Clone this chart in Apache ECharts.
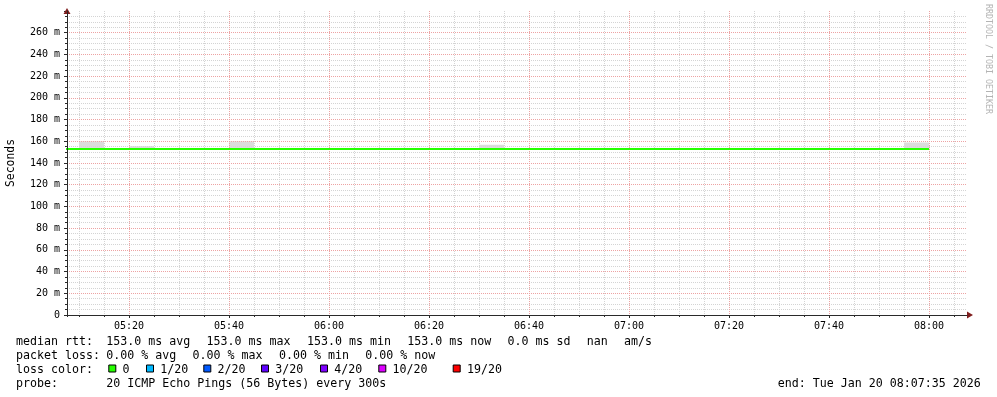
<!DOCTYPE html>
<html>
<head>
<meta charset="utf-8">
<script src="https://cdn.jsdelivr.net/npm/echarts@6/dist/echarts.min.js"></script>
<style>
html,body{margin:0;padding:0;background:#ffffff;}
#chart{width:997px;height:397px;}
</style>
</head>
<body>
<div id="chart"></div>
<script>
// ---------------- DATA ----------------
// 5-minute RRD steps, labelled by the END of each step (HH:MM, 2026-01-20)
const stepEnds = ['05:05','05:10','05:15','05:20','05:25','05:30','05:35','05:40','05:45','05:50','05:55',
                  '06:00','06:05','06:10','06:15','06:20','06:25','06:30','06:35','06:40','06:45','06:50','06:55',
                  '07:00','07:05','07:10','07:15','07:20','07:25','07:30','07:35','07:40','07:45','07:50','07:55','08:00'];
// median rtt per step (ms)
const medianRtt = [153,153,153,153,153,153,153,153,153,153,153,
                   153,153,153,153,153,153,153,153,153,153,153,153,
                   153,153,153,153,153,153,153,153,153,153,153,153,153];
// smoke: lowest and highest ping per step (ms)
const smokeMin  = [153,153,153,153,153,153,153,153,153,153,153,
                   153,153,153,153,153,153,153,153,153,153,153,153,
                   153,153,153,153,153,153,153,153,153,153,153,153,153];
const smokeMax  = [153,153,160,153,155.5,153,153,153,160,153,153,
                   153,153,153,153,153,153,153,156.7,153,153,153,153,
                   153,153,153,153,153,153,153,153,153,153,153,153,158.9];
const viewStart = '05:07:35';
const viewEnd   = '08:07:35';
const yMax = 280;        // ms (top label hidden)
const yMajor = 20;       // ms
const yMinorSplit = 4;   // 5 ms minor grid
const xMajorMin = 20;    // minutes
const xMinorMin = 5;     // minutes

const lossLabels = ['0','1/20','2/20','3/20','4/20','10/20','19/20'];
const lossColors = ['#26ff00','#00b8ff','#0059ff','#5e00ff','#7e00ff','#dd00ff','#ff0000'];
const rttLabel = 'median rtt:';
const rttStats = ['153.0 ms avg','153.0 ms max','153.0 ms min','153.0 ms now','0.0 ms sd','nan','am/s'];
const lossLabel = 'packet loss:';
const lossStats = ['0.00 % avg','0.00 % max','0.00 % min','0.00 % now'];
const lossColorLabel = 'loss color:';
const probeLabel = 'probe:';
const probeText = '20 ICMP Echo Pings (56 Bytes) every 300s';
const endText = 'end: Tue Jan 20 08:07:35 2026';
const yTitle = 'Seconds';
const watermark = 'RRDTOOL / TOBI OETIKER';

// ---------------- HELPERS ----------------
function toMs(hhmm) {
  const p = hhmm.split(':').map(Number);
  return Date.UTC(2026, 0, 20, p[0], p[1], p[2] || 0);
}
function pad(n) { return (n < 10 ? '0' : '') + n; }
const xMin = toMs(viewStart), xMax = toMs(viewEnd);
const MIN = 60000;

const baseData = stepEnds.map((t, i) => [toMs(t), smokeMin[i]]);
const bandData = stepEnds.map((t, i) => [toMs(t), smokeMax[i] - smokeMin[i]]);
const medData  = stepEnds.map((t, i) => [toMs(t), medianRtt[i]]);

// ---------------- STYLE / LAYOUT ----------------
const MONO = 'DejaVu Sans Mono';
const AXIS = '#2a2a2a', ARROW = '#801e1e';
const GRID = '#d4d4d4', MGRID = '#eda3a3';
const legFont = 11.63, charW = 7.0, elemGap = 16.3;
const lineY = [341.7, 355.7, 369.7, 383.7];
const valueX0 = 106.3, labelX = 16;
const lossSquareX = [108.3, 146, 203.3, 261, 320, 378.3, 452.7];

function txt(text, x, y, align) {
  return {
    type: 'text', x: x, y: y, silent: true,
    style: { text: text, fill: '#000', fontFamily: MONO, fontSize: legFont, align: align || 'left', verticalAlign: 'middle' }
  };
}
const graphics = [];
function statRow(label, items, y) {
  graphics.push(txt(label, labelX, y));
  let x = valueX0;
  items.forEach(s => { graphics.push(txt(s, x, y)); x += s.length * charW + elemGap; });
}
statRow(rttLabel, rttStats, lineY[0]);
statRow(lossLabel, lossStats, lineY[1]);
graphics.push(txt(lossColorLabel, labelX, lineY[2]));
lossLabels.forEach((l, i) => {
  const sx = lossSquareX[i];
  graphics.push({ type: 'rect', silent: true, shape: { x: sx + 0.5, y: lineY[2] - 4.7, width: 7, height: 7 },
                  style: { fill: lossColors[i], stroke: '#000', lineWidth: 1 } });
  graphics.push(txt(l, sx + 14.3, lineY[2]));
});
graphics.push(txt(probeLabel, labelX, lineY[3]));
graphics.push(txt(probeText, valueX0, lineY[3]));
graphics.push(txt(endText, 980.8, lineY[3], 'right'));
graphics.push({ type: 'text', x: 988, y: 4, rotation: -Math.PI / 2, silent: true,
  style: { text: watermark, fill: '#b4b4b4', fontFamily: MONO, fontSize: 8.3, align: 'left', verticalAlign: 'middle' } });

const xLabelFmt = v => {
  const d = new Date(v);
  if (d.getUTCSeconds() !== 0 || d.getUTCMinutes() % xMajorMin !== 0) return '';
  return pad(d.getUTCHours()) + ':' + pad(d.getUTCMinutes());
};

const chart = echarts.init(document.getElementById('chart'), null, { renderer: 'canvas' });
chart.setOption({
  useUTC: true,
  animation: false,
  backgroundColor: '#ffffff',
  grid: { left: 67, right: 30, top: 11, bottom: 82, containLabel: false, outerBoundsMode: 'none' },
  xAxis: [
    { // major grid + labels + arrow
      type: 'time', position: 'bottom', min: xMin, max: xMax, z: 3,
      minInterval: (xMajorMin + 1) * MIN, maxInterval: (xMajorMin + 1) * MIN,
      axisLine: { show: true, symbol: ['none', 'triangle'], symbolSize: [7, 6], symbolOffset: [0, 3],
                  lineStyle: { color: ARROW, width: 1 } },
      axisTick: { show: true, length: 3, lineStyle: { color: AXIS } },
      axisLabel: { show: true, formatter: xLabelFmt, color: '#000', fontFamily: MONO, fontSize: 10, margin: 6 },
      splitLine: { show: true, showMinLine: false, showMaxLine: false, lineStyle: { color: MGRID, type: [1, 1], width: 1 } }
    },
    { // minor grid
      type: 'time', position: 'bottom', min: xMin, max: xMax, z: 1,
      minInterval: (xMinorMin + 0.5) * MIN, maxInterval: (xMinorMin + 0.5) * MIN,
      axisLine: { show: false },
      axisTick: { show: true, length: 2, lineStyle: { color: AXIS } },
      axisLabel: { show: false },
      splitLine: { show: true, showMinLine: false, showMaxLine: false, lineStyle: { color: GRID, type: [1, 1], width: 1 } }
    },
    { // axis line overlay
      type: 'time', position: 'bottom', min: xMin, max: xMax, z: 4,
      axisLine: { show: true, lineStyle: { color: AXIS, width: 1 } },
      axisTick: { show: false }, axisLabel: { show: false }, splitLine: { show: false }
    }
  ],
  yAxis: [
    {
      type: 'value', position: 'left', min: 0, max: yMax, interval: yMajor, z: 3,
      name: yTitle, nameLocation: 'middle', nameGap: 50, nameRotate: 90,
      nameTextStyle: { color: '#000', fontFamily: MONO, fontSize: 11.4 },
      axisLine: { show: true, symbol: ['none', 'triangle'], symbolSize: [7, 6], symbolOffset: [0, 0],
                  lineStyle: { color: ARROW, width: 1 } },
      axisTick: { show: true, length: 3, lineStyle: { color: AXIS } },
      minorTick: { show: true, splitNumber: yMinorSplit, length: 2, lineStyle: { color: AXIS } },
      axisLabel: { show: true, color: '#000', fontFamily: MONO, fontSize: 10, margin: 7, showMaxLabel: false,
                   formatter: v => v === 0 ? '0' : v + ' m' },
      splitLine: { show: true, showMinLine: false, showMaxLine: false, lineStyle: { color: MGRID, type: [1, 1], width: 1 } },
      minorSplitLine: { show: true, lineStyle: { color: GRID, type: [1, 1], width: 1 } }
    },
    {
      type: 'value', position: 'left', min: 0, max: yMax, interval: yMajor, z: 4,
      axisLine: { show: true, lineStyle: { color: AXIS, width: 1 } },
      axisTick: { show: false }, axisLabel: { show: false }, splitLine: { show: false }
    }
  ],
  series: [
    { name: 'smoke-base', type: 'line', xAxisIndex: 0, yAxisIndex: 0, stack: 'smoke', step: 'start',
      data: baseData, symbol: 'none', silent: true, lineStyle: { width: 0, opacity: 0 }, z: 2 },
    { name: 'smoke', type: 'line', xAxisIndex: 0, yAxisIndex: 0, stack: 'smoke', step: 'start',
      data: bandData, symbol: 'none', silent: true, lineStyle: { width: 0, opacity: 0 },
      areaStyle: { color: '#dcdcdc', opacity: 1 }, z: 2 },
    { name: 'median rtt', type: 'line', xAxisIndex: 0, yAxisIndex: 0, step: 'start',
      data: medData, symbol: 'none', silent: true, lineStyle: { color: lossColors[0], width: 2 }, z: 3 }
  ],
  graphic: { elements: graphics }
});
</script>
</body>
</html>
